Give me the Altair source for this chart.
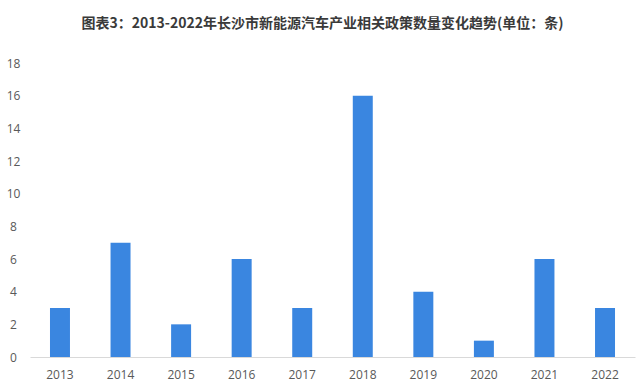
import altair as alt
import pandas as pd

years = ["2013", "2014", "2015", "2016", "2017", "2018", "2019", "2020", "2021", "2022"]
counts = [3, 7, 2, 6, 3, 16, 4, 1, 6, 3]

df = pd.DataFrame({"year": years, "count": counts})

chart = (
    alt.Chart(df)
    .mark_bar(color="#3a86e0")
    .encode(
        x=alt.X(
            "year:N",
            sort=years,
            scale=alt.Scale(paddingInner=0.67, paddingOuter=0.33),
            axis=alt.Axis(
                title=None,
                labelAngle=0,
                labelFontSize=12,
                labelColor="#595959",
                labelFont="Open Sans",
                labelPadding=12,
                ticks=False,
                domainColor="#d9d9d9",
                domainWidth=1,
            ),
        ),
        y=alt.Y(
            "count:Q",
            scale=alt.Scale(domain=[0, 18]),
            axis=alt.Axis(
                title=None,
                values=list(range(0, 19, 2)),
                labelFontSize=12,
                labelColor="#595959",
                labelFont="Open Sans",
                labelPadding=17,
                labelAlign="center",
                ticks=False,
                domain=False,
                grid=False,
            ),
        ),
    )
    .properties(
        width=605,
        height=294,
        background="white",
        title=alt.TitleParams(
            "图表3：2013-2022年长沙市新能源汽车产业相关政策数量变化趋势(单位：条)",
            font="Noto Sans CJK SC",
            fontSize=14,
            fontWeight="bold",
            color="#3a3a3a",
            anchor="middle",
            offset=26,
            dx=-10,
        ),
        autosize=alt.AutoSizeParams(type="none"),
        padding={"left": 30, "top": 63, "right": 8, "bottom": 30},
    )
    .configure_view(strokeWidth=0)
)

chart.save("out.html", embed_options={"renderer": "svg", "actions": False})
